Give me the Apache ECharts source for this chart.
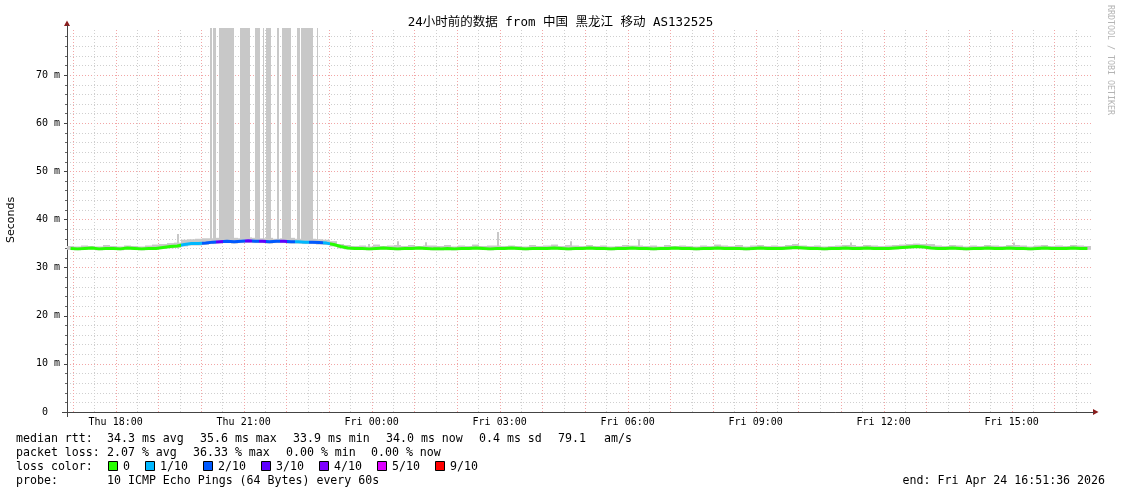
<!DOCTYPE html>
<html><head><meta charset="utf-8">
<script src="https://cdn.jsdelivr.net/npm/echarts@6/dist/echarts.min.js"></script>
<style>html,body{margin:0;padding:0;background:#fff}#c{width:1121px;height:494px}</style>
</head><body><div id="c"></div>
<script>
// ---------------- data ----------------
const START_HOUR = 16 + 51.6 / 60;   // Thu 16:51:36 (hours since Thu 00:00)
const END_HOUR = START_HOUR + 24;    // Fri 16:51:36
const STEP_MIN = 10;                 // sample step in minutes
const Y_MAX = 79.8;

const median = [
  34.0,33.9,34.0,34.1,33.9,34.0,34.0,33.9,34.1,34.0,
  33.9,34.0,34.0,34.2,34.4,34.5,34.8,35.0,35.0,35.1,
  35.3,35.4,35.5,35.4,35.5,35.6,35.5,35.5,35.4,35.5,
  35.5,35.4,35.4,35.3,35.3,35.2,35.1,34.8,34.4,34.1,
  34.0,34.0,33.9,34.0,34.1,34.0,33.9,34.0,34.0,34.1,
  34.0,33.9,33.9,34.0,33.9,34.0,34.0,34.1,34.0,33.9,
  34.0,34.0,34.1,34.0,33.9,34.0,34.0,34.0,34.1,34.0,
  33.9,34.0,34.0,34.1,34.0,34.0,33.9,34.0,34.0,34.1,
  34.0,34.0,33.9,34.0,34.0,34.1,34.0,34.0,33.9,34.0,
  34.0,34.1,34.0,34.0,34.0,33.9,34.0,34.1,34.0,34.0,
  34.0,34.1,34.2,34.1,34.0,34.0,33.9,34.0,34.0,34.1,
  34.0,34.0,34.1,34.0,34.0,34.0,34.1,34.2,34.3,34.4,
  34.3,34.1,34.0,34.0,34.1,34.0,33.9,34.0,34.0,34.1,
  34.0,34.0,34.1,34.0,34.0,33.9,34.0,34.1,34.0,34.0,
  34.0,34.1,34.0,34.0
];
const smokeHi = [
  34.5,34.4,34.6,34.5,34.4,34.7,34.5,34.4,34.6,34.5,
  34.4,34.6,34.8,34.9,35.1,35.2,35.8,35.9,36.0,36.1,
  36.1,36.2,36.0,36.2,36.1,36.3,36.2,36.1,36.2,36.0,
  36.1,36.2,36.0,36.1,36.0,35.9,35.8,35.5,34.9,34.7,
  34.5,34.6,34.4,34.8,34.5,34.6,34.7,34.5,34.7,34.5,
  34.6,34.6,34.5,34.7,34.4,34.6,34.5,34.8,34.5,34.6,
  34.6,34.5,34.6,34.5,34.4,34.7,34.5,34.6,34.8,34.5,
  34.7,34.6,34.5,34.7,34.5,34.6,34.4,34.5,34.7,34.6,
  34.6,34.5,34.6,34.4,34.7,34.5,34.6,34.5,34.4,34.6,
  34.5,34.8,34.6,34.5,34.7,34.4,34.6,34.7,34.5,34.6,
  34.5,34.7,34.9,34.6,34.5,34.6,34.4,34.5,34.6,34.7,
  34.7,34.5,34.7,34.6,34.5,34.6,34.7,34.8,34.9,35.0,
  34.9,34.9,34.6,34.5,34.7,34.6,34.4,34.6,34.5,34.7,
  34.6,34.5,34.7,34.7,34.6,34.4,34.6,34.7,34.5,34.6,
  34.5,34.7,34.6,34.5
];
const smokeLo = [
  33.7,33.6,33.7,33.8,33.6,33.7,33.7,33.6,33.8,33.7,
  33.6,33.7,33.7,33.9,34.0,34.1,34.4,34.6,34.6,34.7,
  34.9,35.0,35.1,35.0,35.1,35.2,35.1,35.1,35.0,35.1,
  35.1,35.0,35.0,34.9,34.9,34.8,34.7,34.4,34.0,33.8,
  33.7,33.7,33.6,33.7,33.8,33.7,33.6,33.7,33.7,33.8,
  33.7,33.6,33.6,33.7,33.6,33.7,33.7,33.8,33.7,33.6,
  33.7,33.7,33.8,33.7,33.6,33.7,33.7,33.7,33.8,33.7,
  33.6,33.7,33.7,33.8,33.7,33.7,33.6,33.7,33.7,33.8,
  33.7,33.7,33.6,33.7,33.7,33.8,33.7,33.7,33.6,33.7,
  33.7,33.8,33.7,33.7,33.7,33.6,33.7,33.8,33.7,33.7,
  33.7,33.8,33.9,33.8,33.7,33.7,33.6,33.7,33.7,33.8,
  33.7,33.7,33.8,33.7,33.7,33.7,33.8,33.9,34.0,34.1,
  34.0,33.8,33.7,33.7,33.8,33.7,33.6,33.7,33.7,33.8,
  33.7,33.7,33.8,33.7,33.7,33.6,33.7,33.8,33.7,33.7,
  33.7,33.8,33.7,33.7
];
// lost pings out of 10 (average over each step)
const lossTenths = [
  0,0,0,0,0,0,0,0,0,0,
  0,0,0,0,0,0.5,1.1,1.4,1.8,2.0,
  2.2,3.2,2.3,2.1,2.4,3.1,2.2,3.2,2.1,2.4,
  3.6,2.2,1.3,1.5,2.2,2.0,1.2,0.3,0,0,
  0,0,0,0,0,0,0,0,0,0,
  0,0,0,0,0,0,0,0,0,0,
  0,0,0,0,0,0,0,0,0,0,
  0,0,0,0,0,0,0,0,0,0,
  0,0,0,0,0,0,0,0,0,0,
  0,0,0,0,0,0,0,0,0,0,
  0,0,0,0,0,0,0,0,0,0,
  0,0,0,0,0,0,0,0,0,0,
  0,0,0,0,0,0,0,0,0,0,
  0,0,0,0,0,0,0,0,0,0,
  0,0,0,0
];
// short single-ping spikes in the smoke
const spikeTimes = ['Thu 19:26','Thu 23:55','Fri 00:36','Fri 01:15','Fri 02:56','Fri 04:39','Fri 06:15','Fri 11:13','Fri 15:02'];
const spikeHi    = [37.0, 34.9, 35.5, 35.3, 37.4, 35.5, 35.9, 35.2, 35.2];
const spikeFloor = 34.0;
// periods where the slowest pings went off the top of the graph
const tallStart = ['Thu 20:12','Thu 20:17','Thu 20:25','Thu 20:55','Thu 21:16','Thu 21:27','Thu 21:31','Thu 21:47','Thu 21:54','Thu 22:15','Thu 22:21','Thu 22:43'];
const tallEnd   = ['Thu 20:15','Thu 20:21','Thu 20:47','Thu 21:09','Thu 21:23','Thu 21:29','Thu 21:39','Thu 21:50','Thu 22:06','Thu 22:19','Thu 22:37','Thu 22:45'];
const tallFloor = 35.2;

const yTickValues = [0,10,20,30,40,50,60,70];
const yTickLabels = ['0  ','10 m','20 m','30 m','40 m','50 m','60 m','70 m'];
const xTickHours = [18,21,24,27,30,33,36,39];
const xTickLabels = ['Thu 18:00','Thu 21:00','Fri 00:00','Fri 03:00','Fri 06:00','Fri 09:00','Fri 12:00','Fri 15:00'];
const hourGrid = [17,18,19,20,21,22,23,24,25,26,27,28,29,30,31,32,33,34,35,36,37,38,39,40];
const halfHourGrid = [17.5,18.5,19.5,20.5,21.5,22.5,23.5,24.5,25.5,26.5,27.5,28.5,29.5,30.5,31.5,32.5,33.5,34.5,35.5,36.5,37.5,38.5,39.5,40.5];

const lossLevels = [0,1,2,3,4,5,9];
const lossLabels = ['0','1/10','2/10','3/10','4/10','5/10','9/10'];
const lossColors = ['#26ff00','#00b8ff','#0059ff','#5e00ff','#7e00ff','#dd00ff','#ff0000'];

const statsRtt = [['median rtt:',16],['34.3 ms avg',107],['35.6 ms max',200],['33.9 ms min',293],['34.0 ms now',386],['0.4 ms sd',479],['79.1',558],['am/s',604]];
const statsLoss = [['packet loss:',16],['2.07 % avg',107],['36.33 % max',193],['0.00 % min',286],['0.00 % now',371]];
const probeText = '10 ICMP Echo Pings (64 Bytes) every 60s';
const endText = 'end: Fri Apr 24 16:51:36 2026';
const titleText = '24小时前的数据 from 中国 黑龙江 移动 AS132525';

// ---------------- helpers ----------------
const tStart = i => START_HOUR + i * STEP_MIN / 60;
const tMid = i => START_HOUR + (i + 0.5) * STEP_MIN / 60;
const dayHm = s => { const d = s.split(' '); const p = d[1].split(':'); return (d[0] === 'Fri' ? 24 : 0) + (+p[0]) + (+p[1]) / 60; };
function lossColor(l) {
  let c = lossColors[0];
  for (let k = 0; k < lossLevels.length; k++) if (l >= lossLevels[k]) c = lossColors[k];
  return c;
}

const MONO = "'DejaVu Sans Mono', monospace";
const GRID = {left: 67, right: 30, top: 28, bottom: 82, outerBoundsMode: 'none', containLabel: false};
const MAJOR = '#f2a6a6', MINOR = '#cfcfcf';
const SMOKE = '#c8c8c8';

const pieces = lossTenths.map((l, i) => ({gte: tStart(i), lt: tStart(i + 1), color: lossColor(l)}));

function rectItem(api, x0, x1, y0, y1, fill, minW) {
  const a = api.coord([x0, y1]);
  const b = api.coord([x1, y0]);
  const left = Math.round(a[0]), right = Math.round(b[0]);
  return {type: 'rect', shape: {x: left, y: a[1], width: Math.max(minW || 1, right - left), height: b[1] - a[1]}, style: {fill: fill}};
}
// crisp dotted vertical grid line at a time value, through the x scale
function vGrid(color) {
  return (params, api) => {
    const top = api.coord([api.value(0), Y_MAX]);
    const bot = api.coord([api.value(0), 0]);
    const x = Math.round(top[0]) + 0.5;
    return {type: 'line', shape: {x1: x, y1: bot[1], x2: x, y2: top[1]}, style: {stroke: color, lineWidth: 1, lineDash: [1, 2]}};
  };
}

// ---------------- graphic (legend area) ----------------
const graphics = [];
const txt = (x, y, s, extra) => graphics.push(Object.assign({type: 'text', x: x, y: y, style: Object.assign({text: s, font: '11.6px ' + MONO, fill: '#000', textVerticalAlign: 'middle'}, extra || {})}));
statsRtt.forEach(p => txt(p[1], 438.5, p[0]));
statsLoss.forEach(p => txt(p[1], 452.5, p[0]));
txt(16, 466.5, 'loss color:');
let lx = 108;
lossLabels.forEach((lab, k) => {
  graphics.push({type: 'rect', shape: {x: lx + 0.5, y: 461.5, width: 9, height: 9}, style: {fill: lossColors[k], stroke: '#000', lineWidth: 1}});
  txt(lx + 15, 466.5, lab);
  lx += 15 + lab.length * 7 + 15;
});
txt(16, 480.5, 'probe:');
txt(107, 480.5, probeText);
txt(1105, 480.5, endText, {textAlign: 'right'});
// axis arrows and small axis extensions
graphics.push({type: 'polygon', shape: {points: [[64, 26], [70, 26], [67, 20.5]]}, style: {fill: '#8b1c1c'}});
graphics.push({type: 'polygon', shape: {points: [[1093, 409], [1093, 415], [1098.5, 412]]}, style: {fill: '#8b1c1c'}});
graphics.push({type: 'line', shape: {x1: 67.5, y1: 412, x2: 67.5, y2: 417}, style: {stroke: '#444', lineWidth: 1}});
graphics.push({type: 'line', shape: {x1: 62, y1: 412.5, x2: 67, y2: 412.5}, style: {stroke: '#444', lineWidth: 1}});
graphics.push({type: 'line', shape: {x1: 67.5, y1: 28, x2: 67.5, y2: 25}, style: {stroke: '#444', lineWidth: 1}});
graphics.push({type: 'line', shape: {x1: 1091, y1: 412.5, x2: 1094, y2: 412.5}, style: {stroke: '#444', lineWidth: 1}});
// vertical watermark
graphics.push({type: 'text', x: 1110, y: 5, rotation: -Math.PI / 2, style: {text: 'RRDTOOL / TOBI OETIKER', font: '8.3px ' + MONO, fill: '#b4b4b4', textAlign: 'left', textVerticalAlign: 'middle'}});

const option = {
  animation: false,
  backgroundColor: '#fff',
  title: {text: titleText, left: 'center', top: 11, textStyle: {fontFamily: "'DejaVu Sans Mono','Noto Sans CJK SC'", fontSize: 12.5, fontWeight: 'normal', color: '#000'}},
  grid: GRID,
  graphic: graphics,
  xAxis: [{
    type: 'value', min: START_HOUR, max: END_HOUR,
    position: 'bottom',
    axisLine: {show: true, onZero: false, lineStyle: {color: '#444', width: 1}},
    axisTick: {show: false, customValues: xTickHours},
    axisLabel: {customValues: xTickHours, margin: 5, fontFamily: MONO, fontSize: 10, color: '#000',
      formatter: v => xTickLabels[xTickHours.indexOf(Math.round(v))] || ''},
    splitLine: {show: false}
  }],
  yAxis: [{
    type: 'value', min: 0, max: Y_MAX, interval: 10,
    name: 'Seconds', nameLocation: 'middle', nameRotate: 90, nameGap: 50,
    nameTextStyle: {fontFamily: "'DejaVu Sans', sans-serif", fontSize: 11, color: '#000'},
    axisLine: {show: true, lineStyle: {color: '#444', width: 1}},
    axisTick: {show: true, length: 3, customValues: yTickValues, lineStyle: {color: '#444'}},
    minorTick: {show: true, splitNumber: 5, length: 2, lineStyle: {color: '#666'}},
    axisLabel: {customValues: yTickValues, margin: 7, fontFamily: MONO, fontSize: 10, color: '#000',
      formatter: v => yTickLabels[yTickValues.indexOf(Math.round(v))] || ''},
    splitLine: {show: true, lineStyle: {color: MAJOR, type: [1, 2], width: 1}},
    minorSplitLine: {show: true, lineStyle: {color: MINOR, type: [1, 2], width: 1}}
  }],
  visualMap: [{
    type: 'piecewise', show: false, dimension: 0, seriesIndex: 5,
    pieces: pieces, outOfRange: {color: lossColors[0]}
  }],
  series: [
    {
      type: 'custom', name: 'gridMinor', silent: true, z: 0, encode: {x: 0},
      data: halfHourGrid.map(h => [h]), renderItem: vGrid(MINOR)
    },
    {
      type: 'custom', name: 'gridMajor', silent: true, z: 0, encode: {x: 0},
      data: hourGrid.map(h => [h]), renderItem: vGrid(MAJOR)
    },
    {
      type: 'custom', name: 'smoke', silent: true, z: 2,
      encode: {x: [0, 1], y: [2, 3]},
      data: median.map((_, i) => [tStart(i), tStart(i + 1), smokeLo[i], smokeHi[i]]),
      renderItem: (params, api) => rectItem(api, api.value(0), api.value(1), api.value(2), api.value(3), SMOKE)
    },
    {
      type: 'custom', name: 'smokeSpikes', silent: true, z: 2,
      encode: {x: 0, y: [1, 2]},
      data: spikeTimes.map((s, k) => [dayHm(s), spikeFloor, spikeHi[k]]),
      renderItem: (params, api) => rectItem(api, api.value(0), api.value(0) + 2 / 60, api.value(1), api.value(2), SMOKE, 2)
    },
    {
      type: 'custom', name: 'smokeTop', silent: true, z: 2,
      encode: {x: [0, 1], y: [2, 3]},
      data: tallStart.map((s, k) => [dayHm(s), dayHm(tallEnd[k]), tallFloor, Y_MAX]),
      renderItem: (params, api) => rectItem(api, api.value(0), api.value(1), api.value(2), Math.min(api.value(3), Y_MAX), SMOKE)
    },
    {
      type: 'line', name: 'median rtt', z: 3,
      showSymbol: false, symbol: 'none', silent: true,
      lineStyle: {width: 3},
      data: median.map((v, i) => [tMid(i), v])
    }
  ]
};

const chart = echarts.init(document.getElementById('c'), null, {renderer: 'canvas'});
chart.setOption(option);
</script>
</body></html>
